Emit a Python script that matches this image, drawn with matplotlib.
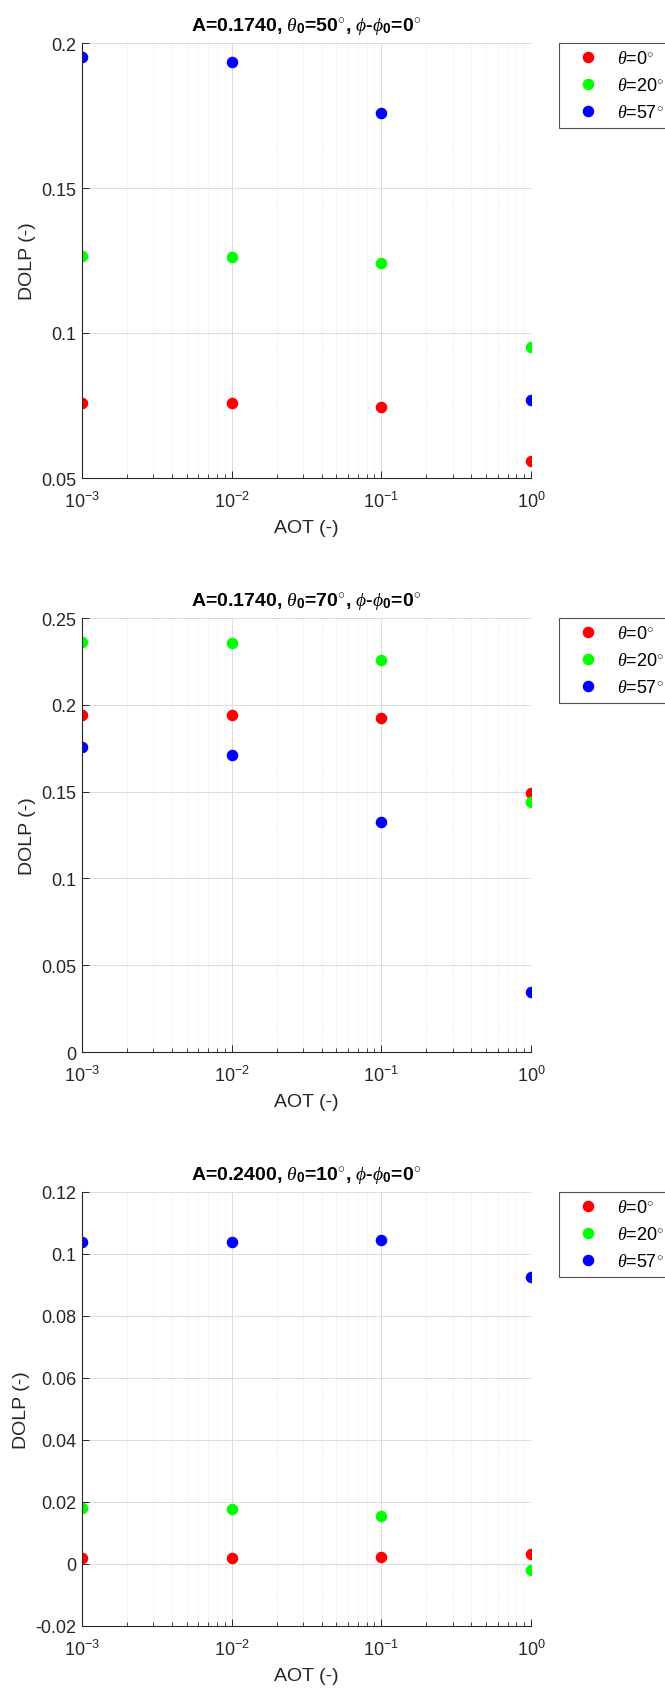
import numpy as np
import matplotlib
matplotlib.use("Agg")
import matplotlib.pyplot as plt
from matplotlib.ticker import FuncFormatter, LogLocator, NullFormatter

plt.rcParams['font.family'] = ['Liberation Sans', 'DejaVu Sans']
plt.rcParams['mathtext.fontset'] = 'custom'
plt.rcParams['mathtext.rm'] = 'Liberation Sans'
plt.rcParams['mathtext.bf'] = 'Liberation Sans:bold'
plt.rcParams['mathtext.it'] = 'Liberation Serif:italic'

# aerosol optical thickness values
aot = [1e-3, 1e-2, 1e-1, 1e0]

# viewing zenith angles
view_labels = [r'$\theta$=0$^{\circ}$', r'$\theta$=20$^{\circ}$', r'$\theta$=57$^{\circ}$']
view_colors = ['#ff0000', '#00ff00', '#0000ff']

# case 1: A=0.1740, theta0=50
dolp_50_t0 = [0.0760, 0.0759, 0.0746, 0.0559]
dolp_50_t20 = [0.1265, 0.1263, 0.1242, 0.0952]
dolp_50_t57 = [0.1953, 0.1935, 0.1759, 0.0770]

# case 2: A=0.1740, theta0=70
dolp_70_t0 = [0.1944, 0.1944, 0.1925, 0.1492]
dolp_70_t20 = [0.2362, 0.2354, 0.2258, 0.1440]
dolp_70_t57 = [0.1757, 0.1710, 0.1325, 0.0348]

# case 3: A=0.2400, theta0=10
dolp_10_t0 = [0.0018, 0.0018, 0.0022, 0.0031]
dolp_10_t20 = [0.0181, 0.0179, 0.0156, -0.0018]
dolp_10_t57 = [0.1038, 0.1039, 0.1044, 0.0925]

titles = [r'A=0.1740, $\theta_{\mathbf{0}}$=50$^{\circ}$, $\phi$-$\phi_{\mathbf{0}}$=0$^{\circ}$',
          r'A=0.1740, $\theta_{\mathbf{0}}$=70$^{\circ}$, $\phi$-$\phi_{\mathbf{0}}$=0$^{\circ}$',
          r'A=0.2400, $\theta_{\mathbf{0}}$=10$^{\circ}$, $\phi$-$\phi_{\mathbf{0}}$=0$^{\circ}$']
series = [[dolp_50_t0, dolp_50_t20, dolp_50_t57],
          [dolp_70_t0, dolp_70_t20, dolp_70_t57],
          [dolp_10_t0, dolp_10_t20, dolp_10_t57]]
ylims = [(0.05, 0.2), (0, 0.25), (-0.02, 0.12)]
ysteps = [0.05, 0.05, 0.02]

W, H = 665, 1690
fig = plt.figure(figsize=(W / 100, H / 100), dpi=100)

# axes boxes in pixels: (left, top, right, bottom)
boxes = [(82, 44, 531, 479), (82, 619, 531, 1053), (82, 1193, 531, 1627)]

for box, title, data, ylim, step in zip(boxes, titles, series, ylims, ysteps):
    l, t, r, b = box
    ax = fig.add_axes([l / W, 1 - b / H, (r - l) / W, (b - t) / H])
    for vals, lab, col in zip(data, view_labels, view_colors):
        ax.plot(aot, vals, 'o', ms=7.3, color=col, mec=col, label=lab)
    ax.set_xscale('log')
    ax.set_xlim(1e-3, 1)
    ax.set_ylim(*ylim)
    ax.set_yticks(np.arange(ylim[0], ylim[1] + step / 2, step))
    ax.yaxis.set_major_formatter(FuncFormatter(lambda v, p: '%g' % round(v, 4)))
    ax.xaxis.set_major_locator(LogLocator(base=10, numticks=10))
    ax.xaxis.set_minor_locator(LogLocator(base=10, subs=np.arange(2, 10), numticks=20))
    ax.xaxis.set_minor_formatter(NullFormatter())

    ax.grid(True, which='major', color='#dcdcdc', lw=0.7, ls='-')
    ax.grid(True, which='minor', axis='x', color='#e2e2e2', lw=0.6, ls=(0, (1, 1.5)))
    ax.set_axisbelow(True)
    for s in ['top', 'right']:
        ax.spines[s].set_visible(False)
    for s in ['left', 'bottom']:
        ax.spines[s].set_color('#262626')
        ax.spines[s].set_linewidth(0.8)

    ax.tick_params(which='both', direction='in', top=False, right=False,
                   colors='#262626', labelsize=13)
    ax.tick_params(which='major', length=5, width=0.7)
    ax.tick_params(which='minor', length=3, width=0.6)
    ax.tick_params(axis='x', pad=9)
    ax.tick_params(axis='y', pad=4)

    ax.set_xlabel('AOT (-)', fontsize=14, color='#262626', labelpad=6)
    ax.set_ylabel('DOLP (-)', fontsize=14, color='#262626', labelpad=4)
    ax.set_title(title, fontsize=14, fontweight='bold', pad=9)

    leg = ax.legend(loc='upper left', bbox_to_anchor=(559 / W, 1 - t / H),
                    bbox_transform=fig.transFigure, fontsize=13, frameon=True,
                    fancybox=False, edgecolor='#262626', borderpad=0.4,
                    handletextpad=0.4, handlelength=2.4, labelspacing=0.55,
                    borderaxespad=0)
    leg.get_frame().set_linewidth(0.8)

fig.savefig('out.png', dpi=100)
